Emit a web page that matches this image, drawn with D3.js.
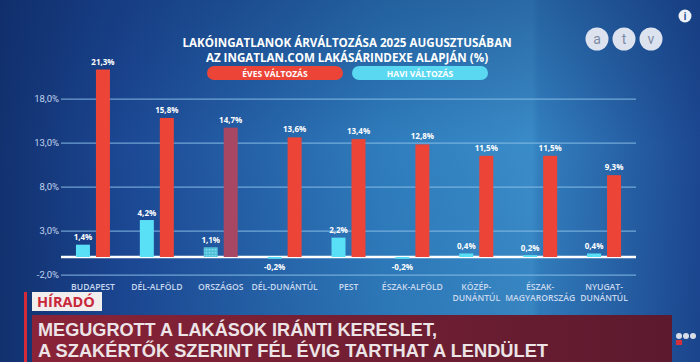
<!DOCTYPE html>
<html>
<head>
<meta charset="UTF-8">
<script src="https://cdnjs.cloudflare.com/ajax/libs/d3/7.8.5/d3.min.js"></script>
<style>
body{margin:0;background:#1b428a;}
svg{display:block;}
text{font-family:"Open Sans","DejaVu Sans",sans-serif;}
</style>
</head>
<body>
<div id="chart"></div>
<script>
var categories=[["BUDAPEST"],["DÉL-ALFÖLD"],["ORSZÁGOS"],["DÉL-DUNÁNTÚL"],["PEST"],["ÉSZAK-ALFÖLD"],["KÖZÉP-","DUNÁNTÚL"],["ÉSZAK-","MAGYARORSZÁG"],["NYUGAT-","DUNÁNTÚL"]];
var haviValues=[1.4,4.2,1.1,-0.2,2.2,-0.2,0.4,0.2,0.4];
var evesValues=[21.3,15.8,14.7,13.6,13.4,12.8,11.5,11.5,9.3];
var yTicks=[-2,3,8,13,18];
var seriesNames=["HAVI VÁLTOZÁS","ÉVES VÁLTOZÁS"];
var titleLines=["LAKÓINGATLANOK ÁRVÁLTOZÁSA 2025 AUGUSZTUSÁBAN","AZ INGATLAN.COM LAKÁSÁRINDEXE ALAPJÁN (%)"];
var headline=["MEGUGROTT A LAKÁSOK IRÁNTI KERESLET,","A SZAKÉRTŐK SZERINT FÉL ÉVIG TARTHAT A LENDÜLET"];

var width=700, height=362;
// hungarian style: comma decimal, plain hyphen minus
var fmt=function(v){return d3.format(".1f")(v).replace(".",",").replace("\u2212","-")+"%";};
var svg=d3.select("#chart").append("svg").attr("width",width).attr("height",height);
var defs=svg.append("defs");

var bg=defs.append("linearGradient").attr("id","bg");
[[0,"#12316f"],[0.18,"#1c4894"],[0.55,"#2f7dbd"],[0.76,"#3a8cc8"],[0.77,"#3380bf"],[1,"#1c4790"]].forEach(function(s){
  bg.append("stop").attr("offset",s[0]).attr("stop-color",s[1]);
});
var shade=defs.append("linearGradient").attr("id","shade").attr("x1",0).attr("y1",0).attr("x2",0).attr("y2",1);
shade.append("stop").attr("offset",0).attr("stop-color","#0d2a66").attr("stop-opacity",0.35);
shade.append("stop").attr("offset",0.4).attr("stop-color","#0d2a66").attr("stop-opacity",0);
shade.append("stop").attr("offset",1).attr("stop-color","#0d2a66").attr("stop-opacity",0.1);
var maroon=defs.append("linearGradient").attr("id","maroon");
maroon.append("stop").attr("offset",0).attr("stop-color","#8a2338");
maroon.append("stop").attr("offset",1).attr("stop-color","#5c1a2e");
var hatch=defs.append("pattern").attr("id","hatch").attr("width",3).attr("height",3).attr("patternUnits","userSpaceOnUse");
hatch.append("rect").attr("width",3).attr("height",3).attr("fill","#4fbfd8");
hatch.append("rect").attr("width",1.5).attr("height",1.5).attr("fill","#86e2f2");

svg.append("rect").attr("width",width).attr("height",height).attr("fill","url(#bg)");
svg.append("rect").attr("width",width).attr("height",height).attr("fill","url(#shade)");

// scales
var x=d3.scaleBand().domain(d3.range(categories.length)).range([61,636]);
var inner=d3.scaleBand().domain([0,1]).range([-17,17]).paddingInner(0.3);
var y=d3.scaleLinear().domain([-2,18]).range([274.6,98.6]);

// grid + axis
var axis=d3.axisLeft(y).tickValues(yTicks).tickSize(-575).tickFormat(fmt);
var g=svg.append("g").attr("transform","translate(61,0)").call(axis);
g.select(".domain").remove();
g.selectAll(".tick line").attr("stroke","#8cc0ea").attr("stroke-opacity",0.75).attr("stroke-width",1.2);
g.selectAll(".tick text").attr("x",-2).attr("fill","#c3d6ee").style("font-size","9.5px").style("font-family","Roboto,sans-serif");

// zero line under the bars so the tiny ones stay visible
svg.append("line").attr("x1",61).attr("x2",636).attr("y1",y(0)).attr("y2",y(0))
  .attr("stroke","#ffffff").attr("stroke-width",2.5);

// bars
var rows=categories.map(function(c,i){return {i:i,vals:[haviValues[i],evesValues[i]]};});
var grp=svg.selectAll(".grp").data(rows).enter().append("g")
  .attr("transform",function(d){return "translate("+(x(d.i)+x.bandwidth()/2)+",0)";});
grp.selectAll("rect").data(function(d){return d.vals.map(function(v,k){return {v:v,k:k,i:d.i};});}).enter().append("rect")
  .attr("x",function(d){return inner(d.k);})
  .attr("width",inner.bandwidth())
  .attr("y",function(d){return y(Math.max(0,d.v));})
  .attr("height",function(d){return Math.abs(y(d.v)-y(0));})
  .attr("fill",function(d){
    if(d.i===2) return d.k===0?"url(#hatch)":"#a84763";
    return d.k===0?"#5ae0f6":"#ec4538";
  });
grp.selectAll(".val").data(function(d){return d.vals.map(function(v,k){return {v:v,k:k,i:d.i};});}).enter().append("text")
  .attr("x",function(d){return inner(d.k)+inner.bandwidth()/2;})
  .attr("y",function(d){return d.v<0?y(d.v)+11:y(d.v)-(d.k===1?5:4.5);})
  .attr("text-anchor","middle").attr("fill","#ffffff")
  .style("font-size","8px").style("font-weight","bold")
  .text(function(d){return fmt(d.v);});

// category labels
grp.append("text").attr("text-anchor","middle").attr("fill","#c9d8ee")
  .style("font-size","8.6px").style("font-weight","600")
  .selectAll("tspan").data(function(d){return categories[d.i];}).enter().append("tspan")
  .attr("x",0).attr("y",function(d,k){return 289.5+k*11.5;}).text(function(d){return d;});

// title
svg.selectAll(".title").data(titleLines).enter().append("text")
  .attr("x",347).attr("y",function(d,i){return 47+i*15;}).attr("text-anchor","middle")
  .attr("fill","#ffffff").style("font-size","11.6px").style("font-weight","bold")
  .text(function(d){return d;});

// legend pills
var legend=svg.selectAll(".leg").data([1,0]).enter().append("g")
  .attr("transform",function(d,i){return "translate("+(207+i*145)+",66)";});
legend.append("rect").attr("width",136).attr("height",14).attr("rx",7)
  .attr("fill",function(d){return d===1?"#ec4538":"#5ad8f2";});
legend.append("text").attr("x",68).attr("y",10.5).attr("text-anchor","middle")
  .attr("fill","#ffffff").style("font-size","8.5px").style("font-weight","bold")
  .text(function(d){return seriesNames[d];});

// logo
var logo=svg.selectAll(".logo").data(["a","t","v"]).enter().append("g")
  .attr("transform",function(d,i){return "translate("+(597+i*27)+",39)";});
logo.append("circle").attr("r",11.5).attr("fill","#dde3ee");
logo.append("text").attr("text-anchor","middle").attr("y",5).attr("fill","#7d8ba6")
  .style("font-size","14px").style("font-family","Roboto,sans-serif").text(function(d){return d;});
svg.append("circle").attr("cx",685).attr("cy",16).attr("r",6.5).attr("fill","#eef2f8");
svg.append("text").attr("x",685).attr("y",20).attr("text-anchor","middle").attr("fill","#2a5a9c")
  .style("font-size","10px").style("font-weight","bold").text("i");

// bottom lower third
svg.append("rect").attr("x",24).attr("y",292).attr("width",3).attr("height",70).attr("fill","#d42a3a");
svg.append("rect").attr("x",32).attr("y",292).attr("width",70).attr("height",19).attr("fill","#f3eeee");
svg.append("text").attr("x",37).attr("y",307).attr("fill","#c8283a")
  .style("font-size","14.5px").style("font-weight","bold").text("HÍRADÓ");
svg.append("rect").attr("x",32).attr("y",315).attr("width",640).attr("height",47).attr("fill","url(#maroon)");
svg.selectAll(".head").data(headline).enter().append("text")
  .attr("x",38).attr("y",function(d,i){return 336+i*21;})
  .attr("fill","#ece4e6").style("font-size","18px").style("font-weight","bold")
  .style("font-family","'Liberation Sans',Arial,sans-serif")
  .attr("textLength",function(d,i){return i===0?399:510;}).attr("lengthAdjust","spacingAndGlyphs")
  .text(function(d){return d;});
svg.selectAll(".dot").data([0,1,2]).enter().append("circle")
  .attr("cx",function(d){return 679+d*7;}).attr("cy",336).attr("r",3).attr("fill","#d8dde8");
svg.append("rect").attr("x",676).attr("y",340).attr("width",6).attr("height",5).attr("fill","#d6303a");
</script>
</body>
</html>
